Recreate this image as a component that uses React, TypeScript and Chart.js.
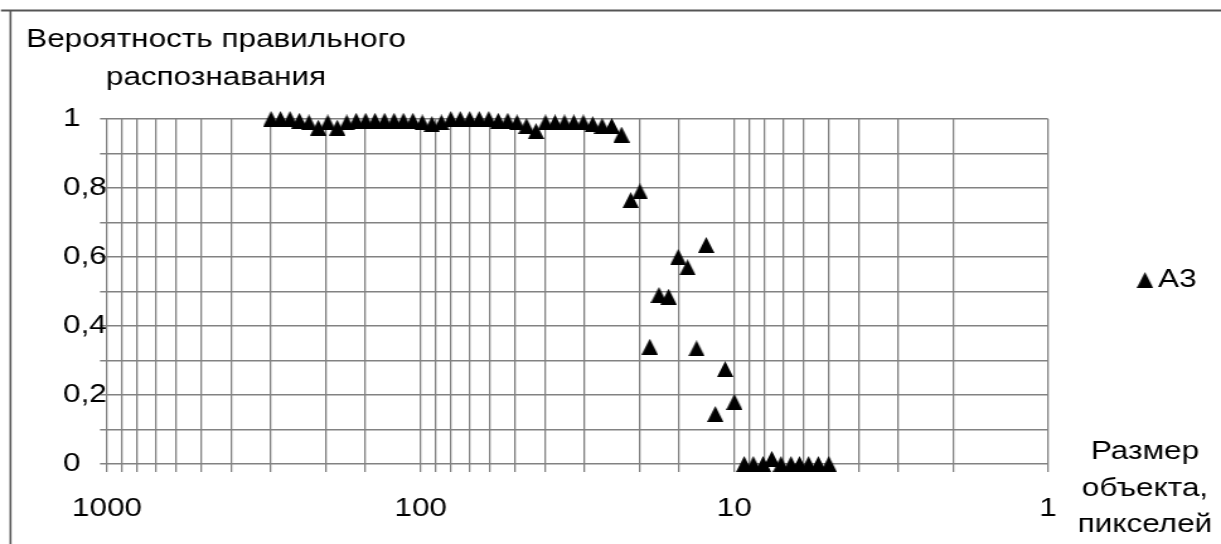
import React, { useEffect, useRef } from 'react';
import { Chart, registerables } from 'chart.js';

Chart.register(...registerables);

// ---- data ----
const objectSizes = [
  300, 279.9, 261.1, 243.6, 227.2, 212.0, 197.8, 184.5, 172.1, 160.6,
  149.8, 139.8, 130.4, 121.6, 113.5, 105.9, 98.8, 92.1, 85.9, 80.2,
  74.8, 69.8, 65.1, 60.7, 56.6, 52.8, 49.3, 46.0, 42.9, 40.0,
  37.3, 34.8, 32.5, 30.3, 28.3, 26.4, 24.6, 22.9, 21.4, 20.0,
  18.6, 17.4, 16.2, 15.1, 14.1, 13.2, 12.3, 11.5, 10.7, 10.0,
  9.3, 8.7, 8.1, 7.6, 7.1, 6.6, 6.2, 5.8, 5.4, 5.0,
];
const probabilityA3 = [
  1.0, 1.0, 1.0, 0.995, 0.99, 0.975, 0.99, 0.975, 0.99, 0.995,
  0.995, 0.995, 0.995, 0.995, 0.995, 0.995, 0.99, 0.985, 0.99, 1.0,
  1.0, 1.0, 1.0, 1.0, 0.995, 0.995, 0.99, 0.98, 0.965, 0.99,
  0.99, 0.99, 0.99, 0.99, 0.985, 0.98, 0.98, 0.955, 0.765, 0.79,
  0.34, 0.49, 0.485, 0.6, 0.57, 0.335, 0.635, 0.145, 0.275, 0.18,
  0, 0, 0, 0.015, 0, 0, 0, 0, 0, 0,
];
const seriesName = 'A3';
const xTickValues = [1000, 100, 10, 1];
const xTickLabels = ['1000', '100', '10', '1'];
const yTickValues = [0, 0.2, 0.4, 0.6, 0.8, 1];
const yTickLabels = ['0', '0,2', '0,4', '0,6', '0,8', '1'];
const yAxisTitle = ['Вероятность правильного', 'распознавания'];
const xAxisTitle = ['Размер', 'объекта,', 'пикселей'];

// ---- layout ----
const PAGE_W = 1221;
const PAGE_H = 544;
const STRETCH = 1.26;
const CW = Math.round(PAGE_W / STRETCH);
const SX = PAGE_W / CW;
const cx = (realX: number) => realX / SX;
const FONT_FAMILY = '"Liberation Sans", Arial, sans-serif';
const FONT_SIZE = 25;
const GRID_COLOR = '#828282';
const TEXT_COLOR = '#000000';

function makeMarker(): HTMLCanvasElement {
  const w = 13;
  const h = 16;
  const m = document.createElement('canvas');
  m.width = w;
  m.height = h;
  const c = m.getContext('2d')!;
  c.fillStyle = '#000';
  c.beginPath();
  c.moveTo(w / 2, 0);
  c.lineTo(w, h);
  c.lineTo(0, h);
  c.closePath();
  c.fill();
  return m;
}

const labelFor = (values: number[], labels: string[], v: number) => {
  const i = values.findIndex((t) => Math.abs(t - v) < 1e-6 * Math.max(1, Math.abs(t)));
  return i >= 0 ? labels[i] : '';
};

export default function App() {
  const ref = useRef<HTMLCanvasElement>(null);

  useEffect(() => {
    const canvas = ref.current;
    if (!canvas) return;
    const marker = makeMarker();

    const overlay = {
      id: 'overlay',
      afterDraw(chart: any) {
        const ctx = chart.ctx as CanvasRenderingContext2D;
        ctx.save();
        // outer frame (left + top)
        ctx.strokeStyle = '#555555';
        ctx.lineWidth = 2;
        ctx.beginPath();
        ctx.moveTo(cx(1), 10.5);
        ctx.lineTo(CW, 10.5);
        ctx.stroke();
        ctx.lineWidth = 1.6;
        ctx.beginPath();
        ctx.moveTo(cx(10.5), 10);
        ctx.lineTo(cx(10.5), PAGE_H);
        ctx.stroke();

        ctx.fillStyle = TEXT_COLOR;
        ctx.font = `${FONT_SIZE}px ${FONT_FAMILY}`;
        ctx.textAlign = 'center';
        ctx.textBaseline = 'alphabetic';
        // y-axis title (top-left)
        ctx.fillText(yAxisTitle[0], cx(216), 47);
        ctx.fillText(yAxisTitle[1], cx(216), 85);
        // x-axis title (bottom-right)
        ctx.fillText(xAxisTitle[0], cx(1145), 459);
        ctx.fillText(xAxisTitle[1], cx(1145), 495.5);
        ctx.fillText(xAxisTitle[2], cx(1145), 532);

        // legend
        const ly = 280;
        ctx.drawImage(marker, cx(1145) - marker.width / 2, ly - marker.height / 2);
        ctx.textAlign = 'left';
        ctx.textBaseline = 'middle';
        ctx.fillText(seriesName, cx(1158), ly);
        ctx.restore();
      },
    };

    const tickFont = { family: FONT_FAMILY, size: FONT_SIZE };

    const chart = new Chart(canvas, {
      type: 'scatter',
      data: {
        datasets: [
          {
            label: seriesName,
            data: objectSizes.map((s, i) => ({ x: s, y: probabilityA3[i] })),
            pointStyle: marker,
            pointRadius: 7,
            backgroundColor: '#000',
            borderColor: '#000',
            showLine: false,
            clip: false,
          } as any,
        ],
      },
      options: {
        responsive: false,
        animation: false,
        devicePixelRatio: 1,
        events: [],
        layout: {
          padding: { left: cx(63), right: CW - cx(1048), top: 119, bottom: 0 },
        },
        plugins: {
          legend: { display: false },
          tooltip: { enabled: false },
          title: { display: false },
        },
        scales: {
          x: {
            type: 'logarithmic',
            min: 1,
            max: 1000,
            reverse: true,
            afterFit: (s: any) => {
              s.height = PAGE_H - 464;
            },
            border: { display: false },
            grid: {
              color: GRID_COLOR,
              lineWidth: 1.3,
              drawTicks: true,
              tickLength: 8,
            },
            ticks: {
              autoSkip: false,
              maxRotation: 0,
              minRotation: 0,
              padding: 22,
              color: TEXT_COLOR,
              font: tickFont,
              callback: (v: any) => labelFor(xTickValues, xTickLabels, Number(v)),
            },
          },
          y: {
            type: 'linear',
            min: 0,
            max: 1,
            afterFit: (s: any) => {
              s.width = cx(107) - cx(63);
            },
            border: { display: false },
            grid: {
              color: GRID_COLOR,
              lineWidth: 1.5,
              drawTicks: true,
              tickLength: cx(7),
            },
            ticks: {
              stepSize: 0.1,
              autoSkip: false,
              crossAlign: 'far',
              padding: 0,
              color: TEXT_COLOR,
              font: tickFont,
              callback: (v: any) => labelFor(yTickValues, yTickLabels, Number(v)),
            },
          },
        },
      } as any,
      plugins: [overlay],
    });

    return () => chart.destroy();
  }, []);

  return (
    <div
      style={{
        position: 'fixed',
        left: 0,
        top: 0,
        width: PAGE_W,
        height: PAGE_H,
        overflow: 'hidden',
        background: '#ffffff',
      }}
    >
      <div
        style={{
          width: CW,
          height: PAGE_H,
          transform: `scaleX(${SX})`,
          transformOrigin: '0 0',
        }}
      >
        <canvas
          ref={ref}
          width={CW}
          height={PAGE_H}
          style={{ display: 'block', width: CW, height: PAGE_H }}
        />
      </div>
    </div>
  );
}
